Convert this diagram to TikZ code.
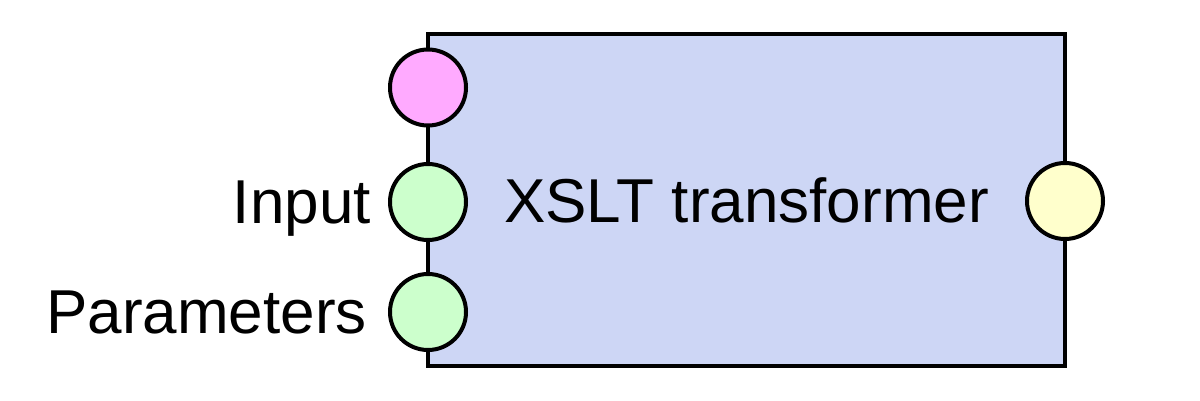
\documentclass[tikz,border=0pt]{standalone}
\usepackage{fontspec}
\setmainfont{Liberation Sans}
\usetikzlibrary{positioning}
\definecolor{boxblue}{RGB}{205,214,245}
\definecolor{ctlpink}{RGB}{255,170,255}
\definecolor{inpgreen}{RGB}{204,255,204}
\definecolor{outyellow}{RGB}{255,255,204}
\begin{document}
\begin{tikzpicture}[x=1pt,y=1pt,
  font=\fontsize{62}{74}\selectfont,
  block/.style={draw=black, fill=boxblue, line width=4pt, inner sep=0pt, minimum width=637pt, minimum height=332pt},
  port/.style={circle, draw=black, line width=4pt, inner sep=0pt, minimum size=76pt},
  portlabel/.style={inner sep=0pt, text depth=0pt}]
\useasboundingbox (0,0) rectangle (1200,400);
\node[block] (xslt) at (746.5,200) {XSLT transformer};
\node[port, fill=ctlpink] (ctl) at (428,312.5) {};
\node[port, fill=inpgreen] (inp) at (428,198) {};
\node[port, fill=inpgreen] (par) at (428,88) {};
\node[port, fill=outyellow] (out) at (1065,199) {};
\node[portlabel, left=17pt of inp] (inplabel) {Input};
\node[portlabel, left=21pt of par] (parlabel) {Parameters};
\end{tikzpicture}
\end{document}
